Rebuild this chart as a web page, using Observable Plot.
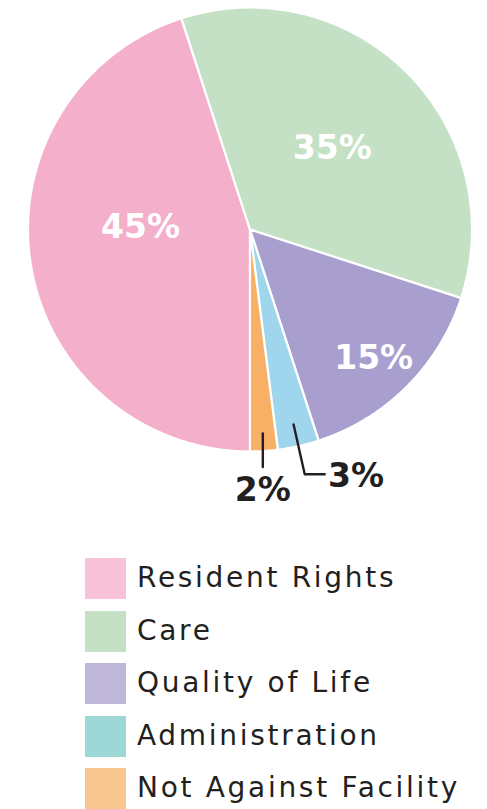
<!DOCTYPE html>
<html>
<head>
<meta charset="utf-8">
<script src="https://cdn.jsdelivr.net/npm/d3@7"></script>
<script src="https://cdn.jsdelivr.net/npm/@observablehq/plot@0.6"></script>
<style>
  html, body { margin: 0; padding: 0; background: #fff; }
  #chart svg { display: block; }
  .legend { margin-top: 43px; padding-left: 85px; font-family: "DejaVu Sans", sans-serif; color: #231f20; }
  .row { display: flex; align-items: center; height: 41px; margin-bottom: 11.5px; }
  .sw { width: 41px; height: 41px; flex: none; }
  .lbl { margin-left: 11px; font-size: 28px; letter-spacing: 2.7px; white-space: nowrap; position: relative; top: -1px; }
</style>
</head>
<body>
<div id="chart"></div>
<div class="legend" id="legend"></div>
<script>
// ---- data ----
const categories = ["Resident Rights", "Care", "Quality of Life", "Administration", "Not Against Facility"];
const values = [45, 35, 15, 3, 2];
const labels = ["45%", "35%", "15%", "3%", "2%"];
const sliceColors = ["#F4AFCB", "#C4E1C6", "#A89FCF", "#A0D5EE", "#F8B066"];
const legendColors = ["#F8C3D8", "#C4E1C6", "#BEB7DA", "#9ED8D6", "#FAC68F"];

// ---- layout ----
const W = 487, H = 515, CX = 249.5, CY = 229, R = 222;
const insideLabelAt = [[271, 0.493], [45.5, 0.52], [136.2, 0.805]]; // [deg, radius] for big slices

const rad = d => d * Math.PI / 180;
const polar = (a, r) => ({x: Math.sin(a) * r, y: -Math.cos(a) * r});

const arcs = d3.pie().sort(null).value(d => d.value).startAngle(Math.PI).endAngle(3 * Math.PI)(
  categories.map((c, i) => ({category: c, value: values[i], label: labels[i]}))
);

// slice polygons
const slicePts = [];
arcs.forEach(a => {
  const n = Math.max(8, Math.ceil((a.endAngle - a.startAngle) * 120));
  slicePts.push({category: a.data.category, x: 0, y: 0});
  for (let k = 0; k <= n; k++) {
    const t = a.startAngle + (a.endAngle - a.startAngle) * k / n;
    slicePts.push({category: a.data.category, ...polar(t, 1)});
  }
  slicePts.push({category: a.data.category, x: 0, y: 0});
});

// inside labels
const inside = arcs.slice(0, 3).map((a, i) => ({label: a.data.label, ...polar(rad(insideLabelAt[i][0]), insideLabelAt[i][1])}));

// outside labels with leaders
const mid = a => (a.startAngle + a.endAngle) / 2;
const adm = arcs[3], naf = arcs[4];
const a0 = polar(mid(adm), 0.9), a1 = polar(mid(adm), 1.13), a2 = {x: a1.x + 0.09, y: a1.y};
const n0 = polar(mid(naf), 0.92), n1 = {x: n0.x, y: 1.07};
const leaders = [
  {id: "adm", ...a0}, {id: "adm", ...a1}, {id: "adm", ...a2},
  {id: "naf", ...n0}, {id: "naf", ...n1}
];
const outside = [
  {label: adm.data.label, x: a2.x + 0.015, y: a2.y + 0.01, anchor: "start"},
  {label: naf.data.label, x: n1.x, y: 1.176, anchor: "middle"}
];

const chart = Plot.plot({
  width: W, height: H,
  margin: 0,
  x: {domain: [-CX / R, (W - CX) / R], range: [0, W], axis: null},
  y: {domain: [-CY / R, (H - CY) / R], range: [0, H], axis: null},
  color: {domain: categories, range: sliceColors},
  style: {fontFamily: "'DejaVu Sans', sans-serif", background: "#fff"},
  marks: [
    Plot.line(slicePts, {x: "x", y: "y", z: "category", fill: "category", stroke: "#fff", strokeWidth: 2.2, strokeLinejoin: "round", curve: "linear"}),
    Plot.text(inside, {x: "x", y: "y", text: "label", fill: "#fff", fontSize: 33, fontWeight: "bold"}),
    Plot.line(leaders, {x: "x", y: "y", z: "id", stroke: "#231f20", strokeWidth: 2.4}),
    Plot.text(outside.filter(d => d.anchor === "start"), {x: "x", y: "y", text: "label", fill: "#231f20", fontSize: 33, fontWeight: "bold", textAnchor: "start"}),
    Plot.text(outside.filter(d => d.anchor === "middle"), {x: "x", y: "y", text: "label", fill: "#231f20", fontSize: 33, fontWeight: "bold", textAnchor: "middle"})
  ]
});
document.getElementById("chart").appendChild(chart);

const legend = document.getElementById("legend");
categories.forEach((c, i) => {
  const row = document.createElement("div");
  row.className = "row";
  const sw = document.createElement("div");
  sw.className = "sw";
  sw.style.background = legendColors[i];
  const lb = document.createElement("span");
  lb.className = "lbl";
  lb.textContent = c;
  row.appendChild(sw);
  row.appendChild(lb);
  legend.appendChild(row);
});
</script>
</body>
</html>
